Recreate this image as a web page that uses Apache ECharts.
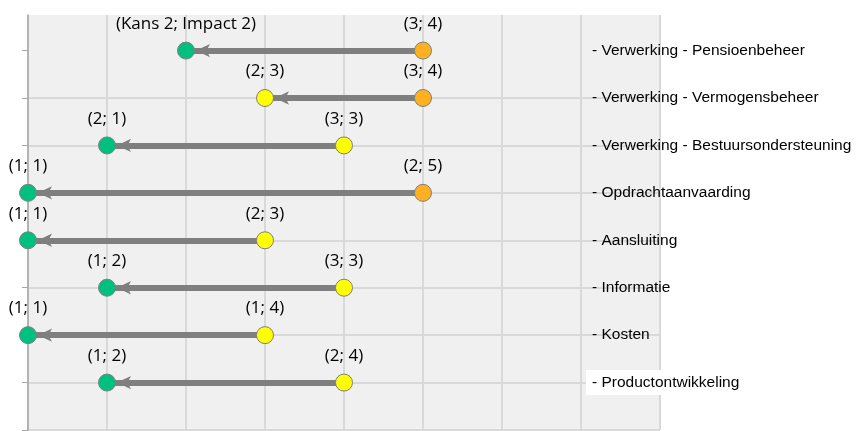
<!DOCTYPE html>
<html>
<head>
<meta charset="utf-8">
<script src="https://cdn.jsdelivr.net/npm/echarts@6/dist/echarts.min.js"></script>
<style>
  html, body { margin: 0; padding: 0; background: #ffffff; }
  #chart { width: 856px; height: 431px; }
</style>
</head>
<body>
<div id="chart"></div>
<script>
// Risicoverschuiving per proces: van bruto (Kans; Impact) naar netto (Kans; Impact)
const processen = [
  'Verwerking - Pensioenbeheer',
  'Verwerking - Vermogensbeheer',
  'Verwerking - Bestuursondersteuning',
  'Opdrachtaanvaarding',
  'Aansluiting',
  'Informatie',
  'Kosten',
  'Productontwikkeling'
];
const brutoKans   = [3, 3, 3, 2, 2, 3, 1, 2];
const brutoImpact = [4, 4, 3, 5, 3, 3, 4, 4];
const nettoKans   = [2, 2, 2, 1, 1, 1, 1, 1];
const nettoImpact = [2, 3, 1, 1, 1, 2, 1, 2];
// rij op de verticale as (bovenste proces = hoogste rij)
const rijen = [8, 7, 6, 5, 4, 3, 2, 1];
const rijTicks = [0, 1, 2, 3, 4, 5, 6, 7, 8];
// processen die met een witte achtergrond worden gelabeld
const gemarkeerd = ['Productontwikkeling'];

const GRIJS = '#7f7f7f';
const labelFont = '"Open Sans", sans-serif';
const asFont = '"Liberation Sans", Arial, sans-serif';

// kleur van een stip op basis van de score (kans + impact)
function kleur(score) {
  if (score >= 7) return '#ffb020';
  if (score >= 5) return '#ffff00';
  return '#00c07f';
}

function punt(k, i, rij, uitgebreid) {
  const score = k + i;
  return {
    value: [score, rij],
    itemStyle: { color: kleur(score) },
    label: { formatter: uitgebreid ? '(Kans ' + k + '; Impact ' + i + ')' : '(' + k + '; ' + i + ')' }
  };
}

const brutoData = processen.map((p, n) => punt(brutoKans[n], brutoImpact[n], rijen[n], false));
const nettoData = processen.map((p, n) => punt(nettoKans[n], nettoImpact[n], rijen[n], n === 0));
const lijnData = processen.map((p, n) => ({
  coords: [[brutoKans[n] + brutoImpact[n], rijen[n]], [nettoKans[n] + nettoImpact[n], rijen[n]]]
}));
const pijlData = processen.map((p, n) => [nettoKans[n] + nettoImpact[n], rijen[n]]);

const stipStijl = {
  type: 'scatter',
  symbol: 'circle',
  symbolSize: 17,
  z: 5,
  silent: true,
  itemStyle: { borderColor: GRIJS, borderWidth: 1, opacity: 1 },
  label: {
    show: true,
    position: 'top',
    distance: 9,
    color: '#000000',
    fontFamily: labelFont,
    fontSize: 17
  }
};

const chart = echarts.init(document.getElementById('chart'), null, { renderer: 'canvas' });
chart.setOption({
  animation: false,
  backgroundColor: '#ffffff',
  grid: {
    left: 28, right: 196, top: 15, bottom: 1,
    outerBoundsMode: 'none',
    containLabel: false,
    show: true, backgroundColor: '#f0f0f0', borderWidth: 0
  },
  xAxis: {
    type: 'value', min: 2, max: 10, interval: 1,
    axisLine: { show: false },
    axisTick: { show: false },
    axisLabel: { show: false },
    splitLine: { show: true, lineStyle: { color: '#d9d9d9', width: 2 } }
  },
  yAxis: [
    {
      type: 'value', min: 0, max: 8.75, interval: 1, position: 'left',
      axisLine: { show: true, lineStyle: { color: '#a6a6a6', width: 1.5 } },
      axisTick: { show: true, length: 6, customValues: rijTicks, lineStyle: { color: '#a6a6a6' } },
      axisLabel: { show: false },
      splitLine: { show: true, showMaxLine: false, lineStyle: { color: '#d9d9d9', width: 2 } }
    },
    {
      type: 'value', min: 0, max: 8.75, interval: 1, position: 'right',
      axisLine: { show: false },
      axisTick: { show: false },
      splitLine: { show: false },
      axisLabel: {
        show: true,
        inside: true,
        align: 'left',
        margin: 74,
        customValues: rijen,
        formatter: function (v) {
          const naam = processen[rijen.indexOf(v)];
          if (naam === undefined) return '';
          return (gemarkeerd.indexOf(naam) >= 0 ? '{b|- ' : '{t|- ') + naam + '}';
        },
        rich: {
          t: { fontFamily: asFont, fontSize: 15.5, color: '#000000', padding: [0, 0, 0, 6] },
          b: { fontFamily: asFont, fontSize: 15.5, color: '#000000', backgroundColor: '#ffffff', padding: [5, 6, 4, 6] }
        }
      }
    }
  ],
  series: [
    {
      type: 'lines',
      coordinateSystem: 'cartesian2d',
      silent: true,
      z: 2,
      symbol: ['none', 'none'],
      lineStyle: { color: GRIJS, width: 6, opacity: 1 },
      data: lijnData
    },
    {
      type: 'scatter',
      silent: true,
      z: 3,
      symbol: 'arrow',
      symbolSize: [10, 14],
      symbolRotate: 90,
      symbolOffset: [10, 0],
      itemStyle: { color: GRIJS, opacity: 1 },
      data: pijlData
    },
    Object.assign({}, stipStijl, { data: brutoData }),
    Object.assign({}, stipStijl, { data: nettoData })
  ]
});
</script>
</body>
</html>
